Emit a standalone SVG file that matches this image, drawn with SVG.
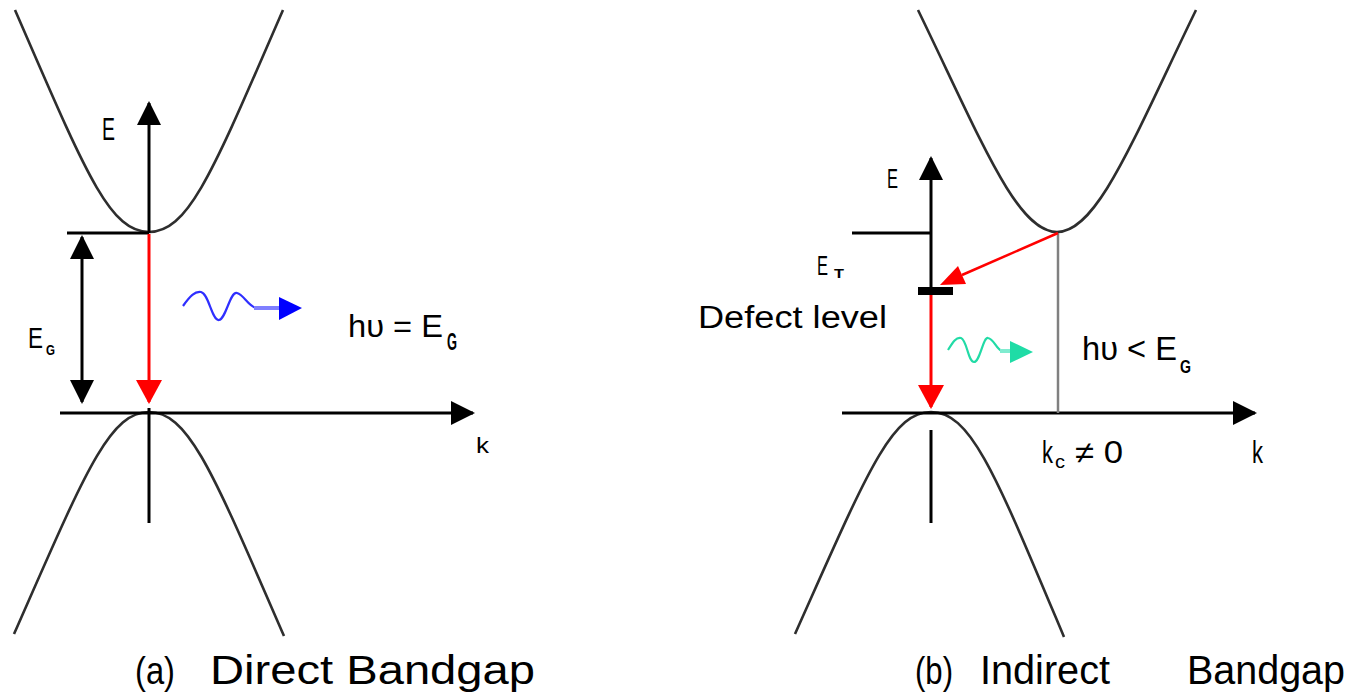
<svg xmlns="http://www.w3.org/2000/svg" width="1354" height="697" viewBox="0 0 1354 697">
<style>
.band{fill:none;stroke:#2e2e2e;stroke-width:2.6}
.ax{fill:none;stroke:#000;stroke-width:3}
.red{fill:none;stroke:#ff0000;stroke-width:3}
.t{font-family:"Liberation Sans",Arial,sans-serif;fill:#000}
</style>
<defs>
<marker id="ah" markerUnits="userSpaceOnUse" markerWidth="26" markerHeight="26" refX="22" refY="12" orient="auto-start-reverse" viewBox="0 0 26 26">
<path d="M0,0 L24,12 L0,24 Z" fill="#000"/>
</marker>
<marker id="ahr" markerUnits="userSpaceOnUse" markerWidth="26" markerHeight="28" refX="22" refY="13" orient="auto" viewBox="0 0 26 28">
<path d="M0,0 L24,13 L0,26 Z" fill="#ff0000"/>
</marker>
</defs>
<rect width="1354" height="697" fill="#fff"/>

<g id="panel-a">
<g id="a-bands">
<path class="band" d="M15,10 C85,171 109,232 149,232 C189,232 213,171 283,10"/>
<path class="band" d="M14,634 C85,473 109,412 149,412 C189,412 213,473 284,636"/>
</g>
<g id="a-connectors">
<line class="ax" x1="149" y1="233" x2="149" y2="103" marker-end="url(#ah)"/>
<line class="ax" x1="149" y1="408" x2="149" y2="523"/>
<line class="ax" x1="60" y1="413" x2="473" y2="413" marker-end="url(#ah)"/>
<line class="ax" x1="67" y1="233" x2="149" y2="233"/>
<line class="ax" x1="82" y1="237" x2="82" y2="402" marker-start="url(#ah)" marker-end="url(#ah)"/>
<line class="red" x1="149" y1="234" x2="149" y2="402" marker-end="url(#ahr)"/>
</g>
<g id="a-photon">
<path d="M183,306 C190,296 195,291 201,292 C209,294 212,321 219,320 C226,319 230,291 237,293 C244,295 248,306 256,308" fill="none" stroke="#2f2fff" stroke-width="2.2"/>
<line x1="254" y1="308" x2="282" y2="308" stroke="#7f7fff" stroke-width="4"/>
<path d="M279,297 L302,308 L279,320 Z" fill="#0000ff"/>
</g>
<g id="a-labels">
<text class="t" x="102" y="140" font-size="31" textLength="13" lengthAdjust="spacingAndGlyphs">E</text>
<text class="t" x="28" y="348" font-size="29" textLength="15" lengthAdjust="spacingAndGlyphs">E</text>
<text class="t" x="46" y="355" font-size="15" font-weight="bold" textLength="9" lengthAdjust="spacingAndGlyphs">G</text>
<text class="t" x="348" y="337" font-size="31" textLength="95" lengthAdjust="spacingAndGlyphs">hυ = E</text>
<text class="t" x="447" y="350" font-size="23" font-weight="bold" textLength="10" lengthAdjust="spacingAndGlyphs">G</text>
<text class="t" x="476" y="453" font-size="22" textLength="13" lengthAdjust="spacingAndGlyphs">k</text>
</g>
<g id="a-caption">
<text class="t" x="135" y="684" font-size="38" textLength="40" lengthAdjust="spacingAndGlyphs">(a)</text>
<text class="t" x="210" y="684" font-size="41" textLength="325" lengthAdjust="spacingAndGlyphs">Direct Bandgap</text>
</g>
</g>

<g id="panel-b">
<g id="b-bands">
<path class="band" d="M918,10 C982,142 1017,232 1057,232 C1097,232 1132,142 1196,10"/>
<path class="band" d="M795,634 C867,473 891,412 931,412 C971,412 995,473 1064,637"/>
</g>
<g id="b-connectors">
<line class="ax" x1="931" y1="287" x2="931" y2="158" marker-end="url(#ah)"/>
<line class="ax" x1="931" y1="430" x2="931" y2="523"/>
<line class="ax" x1="842" y1="413" x2="1255" y2="413" marker-end="url(#ah)"/>
<line class="ax" x1="852" y1="233" x2="931" y2="233"/>
<line x1="1058" y1="233" x2="1058" y2="413" stroke="#808080" stroke-width="2.5"/>
<rect id="defect-bar" x="918" y="287" width="35" height="8" fill="#000"/>
<line class="red" x1="931" y1="295" x2="931" y2="407" marker-end="url(#ahr)"/>
<line x1="1058" y1="233" x2="962" y2="275" stroke="#ff0000" stroke-width="2.5"/>
<path d="M940,285 L958,266 L966,284 Z" fill="#ff0000"/>
</g>
<g id="b-photon">
<path d="M948,350 C953,342 956,337 961,338 C967,340 968,362 974,362 C980,362 983,337 988,338 C994,339 996,349 1002,351" fill="none" stroke="#22dba6" stroke-width="2.2"/>
<line x1="1000" y1="351" x2="1012" y2="351" stroke="#80ecd0" stroke-width="4"/>
<path d="M1010,341 L1033,352 L1010,363 Z" fill="#1fdca6"/>
</g>
<g id="b-labels">
<text class="t" x="887" y="188" font-size="28" textLength="11" lengthAdjust="spacingAndGlyphs">E</text>
<text class="t" x="817" y="275" font-size="28" textLength="11" lengthAdjust="spacingAndGlyphs">E</text>
<text class="t" x="834" y="278" font-size="12" font-weight="bold" textLength="10" lengthAdjust="spacingAndGlyphs">T</text>
<text class="t" x="698" y="328" font-size="31" textLength="189" lengthAdjust="spacingAndGlyphs">Defect level</text>
<text class="t" x="1082" y="360" font-size="34" textLength="95" lengthAdjust="spacingAndGlyphs">hυ &lt; E</text>
<text class="t" x="1180" y="373" font-size="19" font-weight="bold" textLength="11" lengthAdjust="spacingAndGlyphs">G</text>
<text class="t" x="1042" y="463" font-size="31" textLength="11" lengthAdjust="spacingAndGlyphs">k</text>
<text class="t" x="1055" y="468" font-size="18" textLength="10" lengthAdjust="spacingAndGlyphs">c</text>
<text class="t" x="1075" y="463" font-size="31" textLength="48" lengthAdjust="spacingAndGlyphs">≠ 0</text>
<text class="t" x="1252" y="463" font-size="31" textLength="11" lengthAdjust="spacingAndGlyphs">k</text>
</g>
<g id="b-caption">
<text class="t" x="915" y="684" font-size="38" textLength="38" lengthAdjust="spacingAndGlyphs">(b)</text>
<text class="t" x="980" y="684" font-size="41" textLength="130" lengthAdjust="spacingAndGlyphs">Indirect</text>
<text class="t" x="1187" y="684" font-size="41" textLength="158" lengthAdjust="spacingAndGlyphs">Bandgap</text>
</g>
</g>
</svg>
